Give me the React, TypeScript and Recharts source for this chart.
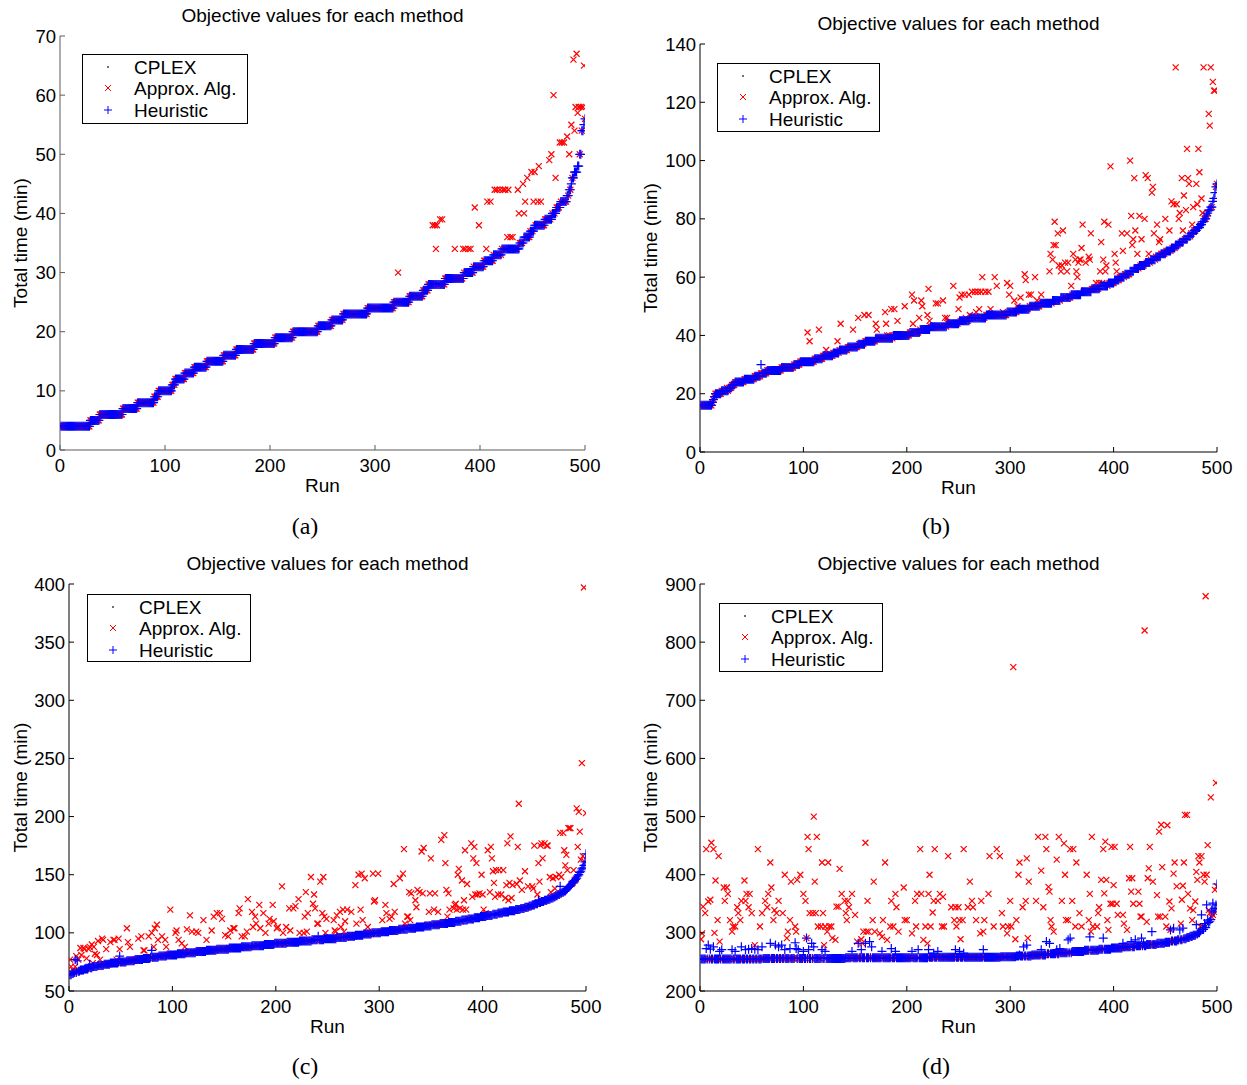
import React from 'react';
import { ScatterChart, Scatter, XAxis, YAxis } from 'recharts';

// [value, number of consecutive runs] for the sorted optimal (CPLEX) objective
type Step = [number, number];
// [run, value] where a method's objective differs from the optimum
type Pt = [number, number];

const RUN_TICKS = [0, 100, 200, 300, 400, 500];

// ---------- (a) ----------
const aTimeTicks = [0, 10, 20, 30, 40, 50, 60, 70];
const aOptimal: Step[] = [
  [4, 28], [5, 9], [6, 22], [7, 14], [8, 16], [9, 4], [10, 13], [11, 3], [12, 9], [13, 9],
  [14, 12], [15, 16], [16, 12], [17, 17], [18, 20], [19, 17], [20, 24], [21, 13], [22, 11], [23, 23],
  [24, 25], [25, 15], [26, 13], [27, 5], [28, 16], [29, 18], [30, 9], [31, 10], [32, 9], [33, 8],
  [34, 17], [35, 4], [36, 6], [37, 4], [38, 10], [39, 7], [40, 4], [41, 4], [42, 6], [43, 2],
  [44, 2], [45, 1], [46, 2], [47, 3], [48, 2], [50, 2], [54, 2], [55, 1], [56, 1],
];
const aApprox: Pt[] = [
  [322, 30], [355, 38], [357, 38], [359, 38], [358, 34], [362, 39], [364, 39], [376, 34], [384, 34], [386, 34],
  [389, 34], [391, 34], [395, 41], [399, 38], [406, 34], [407, 42], [410, 42], [414, 44], [416, 44], [419, 44],
  [422, 44], [424, 44], [427, 44], [436, 44], [426, 36], [429, 36], [431, 36], [437, 40], [442, 40], [441, 45],
  [443, 42], [445, 46], [449, 47], [452, 47], [456, 48], [451, 42], [455, 42], [458, 42], [466, 49], [468, 50],
  [470, 60], [472, 46], [476, 52], [478, 52], [480, 52], [483, 53], [485, 50], [487, 55], [490, 54], [489, 66],
  [492, 67], [499, 65], [491, 58], [494, 58], [496, 58], [498, 58], [493, 57],
];
const aHeuristic: Pt[] = [];

// ---------- (b) ----------
const bTimeTicks = [0, 20, 40, 60, 80, 100, 120, 140];
const bOptimal: Step[] = [
  [16, 11], [17, 1], [18, 1], [19, 1], [20, 6], [21, 7], [22, 3], [23, 3], [24, 9], [25, 10],
  [26, 6], [27, 6], [28, 14], [29, 12], [30, 6], [31, 14], [32, 8], [33, 10], [34, 6], [35, 8],
  [36, 10], [37, 7], [38, 10], [39, 17], [40, 16], [41, 10], [42, 10], [43, 16], [44, 12], [45, 10],
  [46, 16], [47, 20], [48, 10], [49, 12], [50, 10], [51, 12], [52, 8], [53, 10], [54, 10], [55, 10],
  [56, 8], [57, 8], [58, 6], [59, 5], [60, 5], [61, 5], [62, 4], [63, 5], [64, 6], [65, 5],
  [66, 5], [67, 5], [68, 5], [69, 5], [70, 4], [71, 4], [72, 4], [73, 4], [74, 3], [75, 3],
  [76, 3], [77, 3], [78, 2], [79, 2], [80, 2], [81, 1], [82, 1], [83, 2], [84, 2], [86, 1],
  [87, 1], [89, 1], [91, 1], [92, 1],
];
const bApprox: Pt[] = [
  [26, 22], [104, 41], [106, 38], [115, 42], [122, 35], [133, 38], [136, 44], [148, 42], [153, 46], [159, 47],
  [163, 47], [170, 44], [171, 42], [180, 44], [179, 48], [185, 49], [188, 49], [181, 40], [183, 40], [191, 45],
  [198, 50], [205, 54], [207, 52], [206, 44], [212, 46], [214, 52], [215, 50], [213, 42], [221, 56], [220, 47],
  [222, 45], [224, 43], [228, 51], [230, 51], [235, 52], [237, 46], [239, 46], [245, 57], [251, 53], [250, 49],
  [253, 54], [256, 54], [260, 54], [263, 55], [266, 55], [269, 55], [272, 55], [276, 55], [279, 55], [257, 46],
  [261, 47], [267, 48], [270, 49], [273, 60], [285, 60], [287, 57], [281, 49], [293, 48], [297, 58], [300, 57],
  [299, 54], [304, 52], [307, 50], [310, 53], [314, 61], [315, 59], [318, 54], [320, 54], [324, 60], [326, 52],
  [330, 54], [338, 62], [339, 68], [342, 71], [344, 71], [343, 79], [346, 75], [351, 76], [341, 66], [347, 64],
  [349, 62], [350, 64], [353, 65], [355, 62], [356, 65], [359, 57], [361, 68], [363, 66], [364, 62], [366, 65],
  [367, 66], [368, 66], [369, 70], [373, 65], [376, 67], [377, 66], [365, 60], [370, 78], [378, 75], [383, 58],
  [386, 58], [389, 58], [388, 72], [387, 62], [392, 62], [390, 66], [393, 64], [391, 79], [395, 78], [397, 98],
  [401, 68], [402, 65], [403, 62], [408, 75], [413, 75], [409, 69], [416, 100], [417, 81], [425, 81], [420, 94],
  [419, 73], [418, 71], [421, 76], [423, 68], [427, 73], [430, 80], [431, 95], [433, 94], [434, 68], [437, 89],
  [438, 91], [439, 75], [442, 78], [444, 72], [445, 73], [450, 80], [454, 76], [456, 86], [458, 85], [461, 85],
  [460, 132], [464, 82], [463, 80], [466, 94], [467, 76], [468, 88], [471, 104], [470, 83], [472, 94], [473, 92],
  [477, 84], [476, 78], [480, 92], [482, 104], [481, 85], [483, 96], [485, 87], [486, 82], [487, 132], [494, 132],
  [492, 116], [493, 112], [496, 127], [497, 124], [498, 124],
];
const bHeuristic: Pt[] = [[59, 30]];

// ---------- (c) ----------
const cTimeTicks = [50, 100, 150, 200, 250, 300, 350, 400];
const cOptimal: Step[] = [
  [64, 2], [65, 2], [66, 3], [67, 3], [68, 4], [69, 4], [70, 4], [71, 5], [72, 6], [73, 6],
  [74, 8], [75, 8], [76, 8], [77, 8], [78, 7], [79, 8], [80, 8], [81, 10], [82, 8], [83, 10],
  [84, 10], [85, 10], [86, 12], [87, 12], [88, 10], [89, 12], [90, 10], [91, 12], [92, 12], [93, 12],
  [94, 12], [95, 12], [96, 10], [97, 8], [98, 8], [99, 8], [100, 9], [101, 8], [102, 9], [103, 9],
  [104, 8], [105, 8], [106, 7], [107, 8], [108, 8], [109, 7], [110, 6], [111, 6], [112, 6], [113, 6],
  [114, 6], [115, 6], [116, 5], [117, 5], [118, 6], [119, 6], [120, 5], [121, 4], [122, 4], [123, 3],
  [124, 3], [125, 3], [126, 3], [127, 3], [128, 3], [129, 3], [130, 3], [131, 2], [132, 2], [133, 2],
  [134, 2], [135, 2], [136, 2], [137, 1], [138, 1], [139, 1], [140, 1], [141, 1], [142, 1], [143, 1],
  [144, 1], [145, 1], [146, 1], [147, 1], [149, 1], [150, 1], [152, 1], [153, 1], [155, 1], [156, 1],
  [158, 1], [161, 1], [166, 1],
];
const cApprox: Pt[] = [
  [1, 77], [2, 71], [4, 68], [6, 71], [7, 80], [9, 77], [11, 87], [12, 81], [14, 87], [15, 86],
  [17, 78], [19, 86], [20, 88], [22, 90], [24, 88], [25, 82], [27, 81], [23, 74], [28, 93], [32, 95],
  [33, 94], [30, 77], [36, 86], [40, 92], [43, 94], [44, 94], [46, 77], [48, 95], [49, 86], [56, 104],
  [57, 92], [59, 88], [67, 95], [70, 97], [72, 85], [73, 85], [77, 97], [80, 100], [83, 104], [85, 107],
  [82, 88], [86, 94], [90, 97], [93, 94], [94, 88], [98, 120], [104, 102], [103, 100], [106, 94], [109, 91],
  [112, 88], [114, 103], [117, 115], [119, 101], [123, 101], [125, 100], [130, 111], [133, 94], [138, 102], [140, 114],
  [143, 117], [146, 117], [148, 112], [151, 98], [154, 97], [156, 102], [159, 104], [160, 104], [164, 117], [165, 121],
  [167, 97], [170, 97], [172, 101], [173, 129], [177, 118], [180, 114], [178, 105], [181, 108], [185, 104], [184, 124],
  [188, 117], [190, 100], [193, 108], [194, 112], [198, 110], [197, 124], [201, 104], [202, 105], [206, 140], [207, 100],
  [210, 105], [214, 102], [213, 121], [217, 121], [219, 123], [222, 129], [223, 100], [227, 100], [230, 101], [228, 114],
  [231, 117], [229, 135], [234, 148], [236, 125], [238, 121], [237, 133], [240, 108], [241, 108], [243, 144], [246, 148],
  [249, 112], [245, 117], [247, 114], [248, 100], [256, 111], [259, 115], [262, 118], [257, 102], [258, 101], [263, 105],
  [267, 110], [265, 120], [269, 120], [273, 118], [266, 101], [272, 98], [277, 141], [280, 150], [283, 151], [286, 147],
  [278, 108], [284, 111], [282, 120], [289, 105], [291, 100], [294, 151], [299, 151], [295, 127], [296, 128], [303, 111],
  [306, 124], [307, 117], [310, 112], [312, 114], [315, 118], [314, 142], [320, 147], [323, 151], [324, 172], [327, 114],
  [328, 114], [330, 111], [325, 108], [326, 105], [329, 135], [331, 134], [335, 128], [336, 122], [337, 137], [339, 135],
  [342, 134], [349, 134], [354, 134], [341, 170], [343, 173], [350, 164], [348, 118], [353, 120], [357, 118], [360, 180],
  [363, 184], [364, 160], [365, 137], [367, 134], [366, 114], [368, 120], [372, 121], [375, 120], [378, 121], [381, 120],
  [384, 120], [376, 150], [377, 155], [380, 145], [385, 142], [373, 124], [374, 125], [382, 128], [386, 112], [388, 111],
  [383, 171], [389, 177], [392, 174], [391, 164], [394, 160], [390, 131], [393, 133], [395, 133], [397, 134], [400, 133],
  [399, 150], [401, 120], [403, 117], [405, 171], [408, 174], [409, 164], [410, 153], [413, 154], [416, 154], [420, 154],
  [411, 143], [407, 135], [412, 131], [415, 133], [418, 133], [423, 141], [426, 143], [429, 141], [433, 142], [436, 145],
  [422, 130], [425, 128], [428, 130], [427, 183], [424, 177], [435, 211], [434, 174], [441, 153], [438, 137], [444, 140],
  [448, 140], [449, 138], [453, 133], [450, 175], [456, 175], [457, 177], [460, 177], [462, 175], [463, 175], [454, 160],
  [458, 164], [455, 144], [465, 148], [468, 147], [471, 148], [474, 150], [476, 148], [466, 135], [470, 138], [475, 186],
  [478, 186], [479, 171], [481, 167], [480, 158], [482, 154], [483, 190], [484, 190], [485, 190], [488, 154], [491, 207],
  [493, 204], [494, 187], [492, 174], [495, 163], [496, 246], [497, 166], [498, 397], [500, 203],
];
const cHeuristic: Pt[] = [
  [6, 77], [8, 76], [20, 73], [49, 80], [80, 85], [241, 97], [454, 128], [475, 140], [500, 168],
];

// ---------- (d) ----------
const dTimeTicks = [200, 300, 400, 500, 600, 700, 800, 900];
const dOptimal: Step[] = [
  [255, 60], [256, 80], [257, 80], [258, 70], [259, 15], [260, 15], [262, 15], [264, 12], [266, 12], [268, 12],
  [270, 14], [272, 12], [274, 12], [276, 12], [278, 10], [280, 10], [282, 8], [284, 6], [286, 6], [288, 5],
  [290, 4], [292, 3], [294, 3], [296, 3], [298, 2], [300, 2], [303, 2], [306, 2], [309, 2], [312, 1],
  [315, 1], [318, 1], [320, 1], [323, 1], [327, 1], [331, 1], [336, 1], [342, 1], [348, 1], [380, 1],
];
const dApprox: Pt[] = [
  [1, 289], [2, 299], [3, 345], [5, 334], [6, 444], [8, 354], [10, 357], [11, 455], [13, 444], [14, 300],
  [15, 390], [18, 432], [17, 322], [19, 285], [23, 378], [26, 378], [24, 355], [27, 367], [29, 322], [31, 302],
  [32, 311], [34, 311], [36, 344], [37, 334], [39, 322], [40, 355], [43, 390], [44, 355], [45, 367], [48, 367],
  [47, 344], [50, 334], [53, 279], [56, 444], [58, 311], [60, 334], [63, 355], [65, 344], [66, 367], [68, 421],
  [69, 378], [71, 322], [72, 339], [74, 334], [76, 355], [80, 334], [82, 400], [84, 291], [85, 302], [87, 322],
  [88, 388], [92, 311], [93, 302], [94, 391], [97, 400], [100, 367], [102, 355], [103, 291], [105, 444], [104, 465],
  [106, 334], [109, 334], [110, 500], [111, 388], [113, 465], [112, 334], [118, 421], [124, 421], [114, 311], [117, 311],
  [121, 311], [125, 311], [127, 311], [119, 334], [120, 279], [123, 302], [128, 291], [131, 288], [135, 410], [132, 345],
  [134, 345], [137, 367], [140, 355], [143, 355], [142, 322], [141, 334], [144, 344], [147, 367], [150, 331], [152, 285],
  [158, 302], [161, 302], [163, 302], [157, 282], [156, 289], [160, 455], [162, 355], [168, 388], [167, 322], [169, 302],
  [174, 299], [176, 293], [179, 421], [177, 322], [181, 288], [185, 355], [189, 367], [184, 311], [187, 311], [190, 344],
  [192, 302], [197, 378], [198, 322], [200, 322], [205, 299], [208, 355], [210, 367], [209, 311], [213, 444], [214, 367],
  [216, 288], [218, 311], [221, 367], [220, 282], [222, 400], [223, 311], [225, 335], [227, 444], [226, 355], [230, 355],
  [232, 367], [235, 362], [234, 311], [236, 311], [240, 432], [243, 344], [247, 344], [246, 322], [248, 311], [250, 344],
  [251, 322], [255, 444], [252, 289], [254, 322], [259, 344], [261, 388], [263, 355], [264, 344], [267, 322], [271, 299],
  [274, 302], [272, 355], [275, 322], [279, 367], [280, 432], [284, 311], [287, 444], [290, 432], [292, 334], [293, 311],
  [298, 311], [297, 299], [301, 311], [300, 355], [305, 289], [303, 757], [306, 322], [308, 400], [309, 421], [312, 344],
  [315, 355], [316, 428], [318, 388], [317, 291], [325, 355], [327, 465], [334, 465], [330, 407], [332, 344], [335, 444],
  [337, 379], [338, 371], [339, 322], [340, 311], [342, 302], [345, 426], [347, 465], [350, 355], [353, 400], [352, 454],
  [356, 322], [354, 322], [358, 444], [361, 444], [360, 355], [363, 311], [369, 311], [364, 421], [367, 334], [374, 400],
  [376, 322], [377, 367], [378, 302], [379, 465], [380, 311], [384, 311], [385, 334], [386, 344], [388, 391], [393, 391],
  [390, 444], [392, 457], [391, 368], [394, 322], [395, 305], [398, 448], [401, 448], [400, 382], [397, 350], [399, 350],
  [403, 350], [404, 331], [409, 331], [410, 316], [413, 305], [416, 448], [415, 394], [418, 394], [417, 371], [419, 350],
  [430, 820], [424, 371], [425, 350], [426, 328], [427, 328], [432, 319], [434, 411], [435, 448], [433, 394], [438, 388],
  [442, 365], [443, 328], [445, 328], [450, 328], [444, 474], [446, 486], [452, 485], [447, 413], [451, 311], [455, 305],
  [454, 354], [456, 342], [458, 402], [459, 421], [468, 421], [461, 380], [467, 381], [465, 316], [466, 357], [469, 503],
  [471, 503], [472, 367], [474, 342], [476, 322], [477, 339], [479, 354], [480, 405], [482, 432], [485, 432], [481, 391],
  [483, 421], [487, 400], [490, 400], [488, 388], [491, 451], [489, 879], [492, 339], [493, 334], [494, 533], [498, 374],
  [499, 558], [486, 311], [484, 311],
];
const dHeuristic: Pt[] = [
  [6, 273], [8, 279], [10, 272], [13, 276], [19, 268], [21, 271], [31, 271], [34, 268], [40, 276], [44, 271],
  [47, 272], [50, 273], [53, 272], [56, 271], [60, 276], [68, 282], [73, 279], [76, 276], [79, 279], [82, 271],
  [87, 273], [92, 283], [93, 273], [95, 271], [100, 268], [103, 291], [105, 271], [108, 282], [110, 276], [118, 271],
  [121, 268], [147, 268], [153, 282], [156, 271], [160, 282], [164, 285], [166, 276], [176, 268], [185, 273], [189, 268],
  [205, 268], [211, 271], [221, 271], [226, 265], [230, 268], [247, 271], [251, 268], [255, 265], [274, 271], [309, 262],
  [313, 276], [316, 279], [330, 271], [335, 285], [338, 282], [345, 271], [348, 273], [356, 288], [358, 291], [377, 293],
  [390, 291], [409, 282], [417, 285], [421, 288], [427, 291], [429, 282], [437, 302], [455, 305], [458, 308], [464, 305],
  [467, 308], [480, 314], [485, 331], [488, 316], [490, 348], [491, 322], [495, 339], [496, 351], [500, 384],
];

// ---------- helpers ----------
type Row = { run: number; time: number };

function expandSteps(steps: Step[]): number[] {
  const out: number[] = [];
  for (const [v, n] of steps) for (let i = 0; i < n; i++) out.push(v);
  return out;
}
function applyDiffs(base: number[], diffs: Pt[]): number[] {
  const out = base.slice();
  for (const [r, v] of diffs) out[r - 1] = v;
  return out;
}
function rows(vals: number[]): Row[] {
  return vals.map((v, i) => ({ run: i + 1, time: v }));
}

const FONT = '"Liberation Sans", Arial, Helvetica, sans-serif';
const SERIF = '"Liberation Serif", "Times New Roman", serif';
const TICK_FONT = 18.5;

const DotMark = (p: any) => (
  <rect x={p.cx - 0.75} y={p.cy - 0.75} width={1.5} height={1.5} fill="#000" />
);
const CrossMark = (p: any) => (
  <path
    d={`M${p.cx - 3},${p.cy - 3}L${p.cx + 3},${p.cy + 3}M${p.cx - 3},${p.cy + 3}L${p.cx + 3},${p.cy - 3}`}
    stroke="#ff0000"
    strokeWidth={1.2}
    fill="none"
  />
);
const PlusMark = (p: any) => (
  <path
    d={`M${p.cx - 4.5},${p.cy}H${p.cx + 4.5}M${p.cx},${p.cy - 4.5}V${p.cy + 4.5}`}
    stroke="#0000ff"
    strokeWidth={1.2}
    fill="none"
  />
);

type Box = { x: number; y: number; w: number; h: number };

type PanelProps = {
  plot: Box;
  yDomain: [number, number];
  yTicks: number[];
  optimal: Step[];
  approx: Pt[];
  heuristic: Pt[];
  axisColor: string;
};

function Panel({ plot, yDomain, yTicks, optimal, approx, heuristic, axisColor }: PanelProps) {
  const ML = 60, MT = 12, MR = 24, MB = 30;
  const W = plot.w + ML + MR;
  const H = plot.h + MT + MB;
  const bottom = MT + plot.h;

  const base = expandSteps(optimal);
  const optRows = rows(base);
  const apxRows = rows(applyDiffs(base, approx));
  const heuRows = rows(applyDiffs(base, heuristic));

  const XTick = (p: any) => (
    <g>
      <line x1={p.x} x2={p.x} y1={bottom} y2={bottom - 5} stroke={axisColor} />
      <text x={p.x} y={bottom + 21.5} textAnchor="middle" fontSize={TICK_FONT} fontFamily={FONT} fill="#000">
        {p.payload.value}
      </text>
    </g>
  );
  const YTick = (p: any) => (
    <g>
      <line x1={ML} x2={ML + 5} y1={p.y} y2={p.y} stroke={axisColor} />
      <text x={ML - 4} y={p.y + 6.6} textAnchor="end" fontSize={TICK_FONT} fontFamily={FONT} fill="#000">
        {p.payload.value}
      </text>
    </g>
  );

  return (
    <div style={{ position: 'absolute', left: plot.x - ML, top: plot.y - MT }}>
      <ScatterChart width={W} height={H} margin={{ top: MT, right: MR, bottom: 0, left: 0 }}>
        <XAxis
          type="number"
          dataKey="run"
          domain={[0, 500]}
          ticks={RUN_TICKS}
          interval={0}
          height={MB}
          axisLine={{ stroke: axisColor }}
          tickLine={false}
          tick={XTick}
          allowDataOverflow
        />
        <YAxis
          type="number"
          dataKey="time"
          domain={yDomain}
          ticks={yTicks}
          interval={0}
          width={ML}
          axisLine={{ stroke: axisColor }}
          tickLine={false}
          tick={YTick}
          allowDataOverflow
        />
        <Scatter name="CPLEX" data={optRows} shape={DotMark} isAnimationActive={false} />
        <Scatter name="Approx. Alg." data={apxRows} shape={CrossMark} isAnimationActive={false} />
        <Scatter name="Heuristic" data={heuRows} shape={PlusMark} isAnimationActive={false} />
      </ScatterChart>
    </div>
  );
}

function LegendBox({ box }: { box: Box }) {
  const mx = box.x + 26;
  const tx = box.x + 52;
  const r = [box.y + 13, box.y + 34, box.y + 56];
  return (
    <g>
      <rect x={box.x + 0.5} y={box.y + 0.5} width={box.w} height={box.h} fill="#fff" stroke="#000" strokeWidth={1} />
      <rect x={mx - 0.75} y={r[0] - 0.75} width={1.5} height={1.5} fill="#000" />
      <path
        d={`M${mx - 3},${r[1] - 3}L${mx + 3},${r[1] + 3}M${mx - 3},${r[1] + 3}L${mx + 3},${r[1] - 3}`}
        stroke="#ff0000"
        fill="none"
      />
      <path d={`M${mx - 4},${r[2]}H${mx + 4}M${mx},${r[2] - 4}V${r[2] + 4}`} stroke="#0000ff" fill="none" />
      <text x={tx} y={r[0] + 6.8} fontSize={19} fontFamily={FONT}>CPLEX</text>
      <text x={tx} y={r[1] + 6.8} fontSize={19} fontFamily={FONT}>Approx. Alg.</text>
      <text x={tx} y={r[2] + 6.8} fontSize={19} fontFamily={FONT}>Heuristic</text>
    </g>
  );
}

const panels = [
  {
    tag: '(a)', plot: { x: 60, y: 36, w: 525, h: 414 }, legend: { x: 82, y: 54, w: 165, h: 69 },
    yDomain: [0, 70] as [number, number], yTicks: aTimeTicks, optimal: aOptimal, approx: aApprox,
    heuristic: aHeuristic, axisColor: '#5a5a5a', yLabelX: 27, tagX: 305, tagY: 534,
  },
  {
    tag: '(b)', plot: { x: 700, y: 44, w: 517, h: 408 }, legend: { x: 717, y: 63, w: 162, h: 68 },
    yDomain: [0, 140] as [number, number], yTicks: bTimeTicks, optimal: bOptimal, approx: bApprox,
    heuristic: bHeuristic, axisColor: '#000', yLabelX: 657, tagX: 936, tagY: 534,
  },
  {
    tag: '(c)', plot: { x: 69, y: 584, w: 517, h: 407 }, legend: { x: 87, y: 594, w: 163, h: 67 },
    yDomain: [50, 400] as [number, number], yTicks: cTimeTicks, optimal: cOptimal, approx: cApprox,
    heuristic: cHeuristic, axisColor: '#000', yLabelX: 27, tagX: 305, tagY: 1074,
  },
  {
    tag: '(d)', plot: { x: 700, y: 584, w: 517, h: 407 }, legend: { x: 719, y: 603, w: 163, h: 68 },
    yDomain: [200, 900] as [number, number], yTicks: dTimeTicks, optimal: dOptimal, approx: dApprox,
    heuristic: dHeuristic, axisColor: '#000', yLabelX: 657, tagX: 936, tagY: 1074,
  },
];

export default function App() {
  return (
    <div
      style={{
        position: 'absolute', left: 0, top: 0, width: 1247, height: 1085,
        background: '#fff', fontFamily: FONT, overflow: 'hidden',
      }}
    >
      {panels.map((p) => (
        <Panel
          key={p.tag}
          plot={p.plot}
          yDomain={p.yDomain}
          yTicks={p.yTicks}
          optimal={p.optimal}
          approx={p.approx}
          heuristic={p.heuristic}
          axisColor={p.axisColor}
        />
      ))}
      <svg
        width={1247}
        height={1085}
        style={{ position: 'absolute', left: 0, top: 0, pointerEvents: 'none' }}
      >
        {panels.map((p) => {
          const cx = p.plot.x + p.plot.w / 2;
          const cy = p.plot.y + p.plot.h / 2;
          const bottom = p.plot.y + p.plot.h;
          return (
            <g key={p.tag}>
              <text x={cx} y={p.plot.y - 14} textAnchor="middle" fontSize={19} fontFamily={FONT}>
                Objective values for each method
              </text>
              <text x={cx} y={bottom + 41.5} textAnchor="middle" fontSize={19} fontFamily={FONT}>
                Run
              </text>
              <text
                x={p.yLabelX}
                y={cy}
                textAnchor="middle"
                fontSize={19}
                fontFamily={FONT}
                transform={`rotate(-90 ${p.yLabelX} ${cy})`}
              >
                Total time (min)
              </text>
              <text x={p.tagX} y={p.tagY} textAnchor="middle" fontSize={24} fontFamily={SERIF}>
                {p.tag}
              </text>
              <LegendBox box={p.legend} />
            </g>
          );
        })}
      </svg>
    </div>
  );
}
